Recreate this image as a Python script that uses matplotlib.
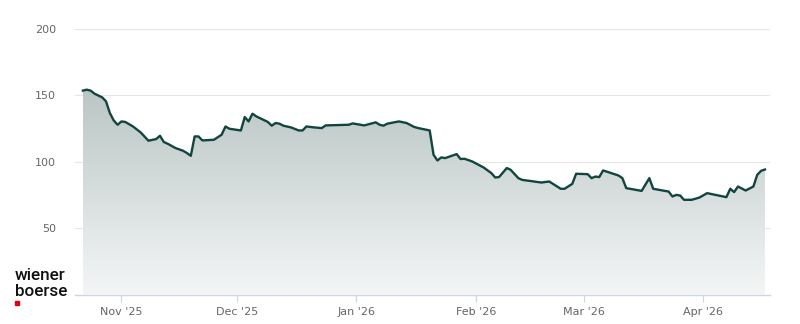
import numpy as np
import pandas as pd
import matplotlib
matplotlib.use("Agg")
import matplotlib.pyplot as plt
import matplotlib.dates as mdates
from matplotlib.colors import LinearSegmentedColormap
from matplotlib.patches import Rectangle, Polygon

# price history
dates = [
    "2025-10-22", "2025-10-23", "2025-10-24", "2025-10-25", "2025-10-27", "2025-10-28",
    "2025-10-29", "2025-10-30", "2025-10-31", "2025-11-01", "2025-11-02", "2025-11-04",
    "2025-11-06", "2025-11-08", "2025-11-10", "2025-11-11", "2025-11-12", "2025-11-13",
    "2025-11-15", "2025-11-17", "2025-11-18", "2025-11-19", "2025-11-20", "2025-11-21",
    "2025-11-22", "2025-11-25", "2025-11-27", "2025-11-28", "2025-11-29", "2025-12-02",
    "2025-12-03", "2025-12-04", "2025-12-05", "2025-12-06", "2025-12-09", "2025-12-10",
    "2025-12-11", "2025-12-12", "2025-12-13", "2025-12-15", "2025-12-17", "2025-12-18",
    "2025-12-19", "2025-12-21", "2025-12-23", "2025-12-24", "2025-12-30", "2025-12-31",
    "2026-01-03", "2026-01-06", "2026-01-07", "2026-01-08", "2026-01-09", "2026-01-12",
    "2026-01-14", "2026-01-16", "2026-01-17", "2026-01-20", "2026-01-21", "2026-01-22",
    "2026-01-23", "2026-01-24", "2026-01-27", "2026-01-28", "2026-01-29", "2026-01-31",
    "2026-02-03", "2026-02-05", "2026-02-06", "2026-02-07", "2026-02-09", "2026-02-10",
    "2026-02-12", "2026-02-13", "2026-02-16", "2026-02-18", "2026-02-20", "2026-02-23",
    "2026-02-24", "2026-02-26", "2026-02-27", "2026-03-02", "2026-03-03", "2026-03-04",
    "2026-03-05", "2026-03-06", "2026-03-10", "2026-03-11", "2026-03-12", "2026-03-16",
    "2026-03-18", "2026-03-19", "2026-03-23", "2026-03-24", "2026-03-25", "2026-03-26",
    "2026-03-27", "2026-03-29", "2026-03-31", "2026-04-02", "2026-04-07", "2026-04-08",
    "2026-04-09", "2026-04-10", "2026-04-12", "2026-04-14", "2026-04-15", "2026-04-16",
    "2026-04-17",
]
prices = [
    153.5, 154.2, 153.5, 151.2, 148.4, 145.4,
    136.6, 131.0, 127.8, 130.3, 129.9, 126.5,
    122.0, 115.8, 117.0, 119.5, 114.8, 113.5,
    110.3, 108.2, 106.5, 104.4, 119.0, 119.0,
    116.0, 116.5, 120.3, 126.5, 124.8, 123.5,
    133.6, 130.3, 136.1, 134.1, 129.9, 127.1,
    129.1, 128.6, 127.1, 125.8, 123.5, 123.5,
    126.5, 125.8, 125.3, 127.3, 127.8, 128.8,
    127.3, 129.6, 127.8, 127.1, 128.6, 130.3,
    129.1, 126.1, 125.3, 123.5, 105.2, 100.9,
    103.2, 102.7, 105.7, 102.0, 102.2, 100.2,
    95.6, 91.4, 88.1, 88.4, 95.2, 93.9,
    87.6, 86.3, 85.1, 84.3, 85.1, 79.6,
    79.6, 83.3, 90.9, 90.6, 87.6, 88.8,
    88.4, 93.4, 89.6, 87.6, 80.1, 78.0,
    87.6, 79.6, 77.5, 73.8, 75.0, 74.5,
    71.3, 71.3, 73.0, 76.3, 73.3, 79.6,
    77.1, 81.3, 78.3, 81.3, 90.1, 93.1,
    94.1,
]
yticks = [50, 100, 150, 200]
month_ticks = ["2025-11-01", "2025-12-01", "2026-01-01", "2026-02-01", "2026-03-01", "2026-04-01"]
month_labels = ["Nov '25", "Dec '25", "Jan '26", "Feb '26", "Mar '26", "Apr '26"]

x = mdates.date2num(pd.to_datetime(dates))
y = np.array(prices)

fig = plt.figure(figsize=(8, 3.24), dpi=100)
ax = fig.add_axes([0.094, 0.091, 0.869, 0.820])

xmin = mdates.date2num(pd.Timestamp("2025-10-20"))
xmax = mdates.date2num(pd.Timestamp("2026-04-18 10:00"))

# gradient area under the line
cmap = LinearSegmentedColormap.from_list("wb", ["#f4f6f6", "#b8c4c3"])
grad = np.linspace(0, 1, 256).reshape(-1, 1)
verts = np.column_stack([np.r_[x, x[-1], x[0]], np.r_[y, 0, 0]])
poly = Polygon(verts, closed=True, facecolor="none", edgecolor="none")
ax.add_patch(poly)
im = ax.imshow(grad, extent=[x[0], x[-1], 0, 160], origin="lower",
               aspect="auto", cmap=cmap, zorder=1)
im.set_clip_path(poly)

ax.plot(x, y, color="#12453f", lw=1.7, zorder=3, solid_joinstyle="round")

ax.set_xlim(xmin, xmax)
ax.set_ylim(0, 200)

ax.set_yticks(yticks)
ax.yaxis.grid(True, color="#e6e6e6", lw=0.8)
ax.set_axisbelow(True)
ax.tick_params(axis="y", length=0, labelsize=8, labelcolor="#666666", pad=14)

ax.set_xticks(mdates.date2num(pd.to_datetime(month_ticks)))
ax.set_xticklabels(month_labels)
ax.tick_params(axis="x", length=5, color="#ccd6eb", labelsize=8,
               labelcolor="#666666", pad=4)

for s in ["top", "right", "left"]:
    ax.spines[s].set_visible(False)
ax.spines["bottom"].set_color("#ccd6eb")
ax.spines["bottom"].set_linewidth(1)

# logo
logo_font = dict(family=["Roboto", "Liberation Sans", "DejaVu Sans"], fontsize=12.3,
                 fontweight="medium", color="#111111", va="center")
fig.text(15 / 800, 1 - 276 / 324, "wiener", **logo_font)
fig.text(15 / 800, 1 - 291.5 / 324, "boerse", **logo_font)
fig.patches.append(Rectangle((15 / 800, 1 - 305 / 324), 4 / 800, 4 / 324,
                             transform=fig.transFigure, color="#e3000f"))

fig.savefig("out.png", dpi=100)
